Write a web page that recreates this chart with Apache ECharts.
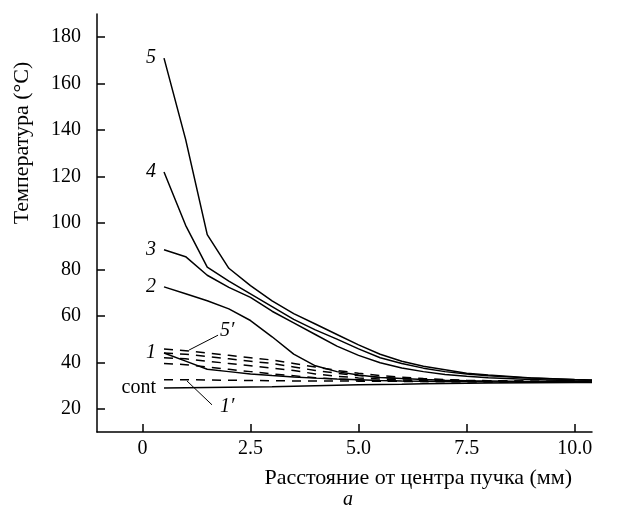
<!DOCTYPE html>
<html>
<head>
<meta charset="utf-8">
<script src="https://cdn.jsdelivr.net/npm/echarts@6/dist/echarts.min.js"></script>
<style>
  html, body { margin: 0; padding: 0; background: #fff; }
  #temp-chart { width: 627px; height: 514px; }
</style>
</head>
<body>
<div id="temp-chart"></div>
<script>
// расстояние от центра пучка, мм
var xs = [0.5, 1, 1.5, 2, 2.5, 3, 3.5, 4, 4.5, 5, 5.5, 6, 6.5, 7, 7.5, 8, 9, 10, 10.4];

// сплошные кривые
var curve5 = [171, 136, 95, 80.5, 73, 66.5, 61, 56.5, 52, 47.5, 43.5, 40.5, 38.3, 36.8, 35.3, 34.5, 33.3, 32.6, 32.4];
var curve4 = [122, 99, 81, 75, 69.5, 64, 58.5, 54, 50, 45.8, 42, 39.5, 37.5, 36, 35, 34.2, 33.2, 32.5, 32.3];
var curve3 = [88.5, 85.5, 77.5, 72.3, 68, 62, 57, 52, 47, 43, 39.8, 37.6, 36, 34.8, 34, 33.4, 32.6, 32.1, 32];
var curve2 = [72.5, 69.5, 66.5, 63, 58, 51, 43.5, 38.5, 36, 34.5, 33.5, 33, 32.6, 32.3, 32.1, 32, 31.8, 31.6, 31.5];
var curve1 = [44, 40.5, 37, 36, 35, 34.3, 33.7, 33.2, 32.8, 32.5, 32.2, 32, 31.9, 31.8, 31.7, 31.6, 31.5, 31.4, 31.4];
var curveCont = [29, 29.1, 29.2, 29.3, 29.4, 29.5, 29.7, 29.9, 30.1, 30.3, 30.5, 30.6, 30.8, 30.9, 31, 31.1, 31.2, 31.3, 31.3];

// штриховые кривые 1'..5'
var dash5 = [45.7, 45, 44, 43, 42, 41, 39.5, 38, 36.5, 35.3, 34.3, 33.6, 33, 32.6, 32.3, 32.1, 31.9, 31.8, 31.7];
var dash4 = [44, 43.5, 42.5, 41.5, 40.5, 39.5, 38, 36.5, 35.3, 34.3, 33.5, 33, 32.6, 32.3, 32.1, 32, 31.8, 31.7, 31.6];
var dash3 = [42, 41.5, 40.5, 39.5, 38.5, 37.5, 36.5, 35, 34, 33.3, 32.8, 32.4, 32.2, 32, 31.9, 31.8, 31.7, 31.6, 31.6];
var dash2 = [39.5, 39, 38, 37, 36, 35, 34.2, 33.4, 32.8, 32.4, 32.1, 31.9, 31.8, 31.7, 31.6, 31.6, 31.5, 31.5, 31.5];
var dash1 = [32.5, 32.5, 32.4, 32.3, 32.2, 32.1, 32, 32, 32, 31.9, 31.9, 31.8, 31.8, 31.7, 31.7, 31.6, 31.6, 31.5, 31.5];

var xTicks = [0, 2.5, 5, 7.5, 10];
var yTicks = [20, 40, 60, 80, 100, 120, 140, 160, 180];

var FONT = "'Liberation Serif', 'DejaVu Serif', serif";

function pairs(vals) {
  return xs.map(function (x, i) { return [x, vals[i]]; });
}

function solid(name, vals) {
  return {
    name: name, type: "line", data: pairs(vals),
    showSymbol: false, silent: true,
    lineStyle: { color: "#000", width: 1.5 }
  };
}
function dashed(name, vals) {
  return {
    name: name, type: "line", data: pairs(vals),
    showSymbol: false, silent: true,
    lineStyle: { color: "#000", width: 1.5, type: [9, 7] }
  };
}

var chart = echarts.init(document.getElementById("temp-chart"));

chart.setOption({
  animation: false,
  backgroundColor: "#fff",
  grid: { left: 97, right: 35, top: 14, bottom: 82 },
  xAxis: {
    type: "value", min: -1.05, max: 10.4,
    axisLine: { onZero: false, lineStyle: { color: "#000", width: 1.5 } },
    axisTick: { inside: true, length: 8, customValues: xTicks, lineStyle: { color: "#000", width: 1.5 } },
    axisLabel: {
      customValues: xTicks, margin: 7, color: "#000", fontFamily: FONT, fontSize: 20,
      formatter: function (v) { return v === 0 ? "0" : v.toFixed(1); }
    },
    splitLine: { show: false }
  },
  yAxis: {
    type: "value", min: 10, max: 190,
    axisLine: { show: true, onZero: false, lineStyle: { color: "#000", width: 1.5 } },
    axisTick: { show: true, inside: true, length: 8, customValues: yTicks, lineStyle: { color: "#000", width: 1.5 } },
    axisLabel: { customValues: yTicks, margin: 16, color: "#000", fontFamily: FONT, fontSize: 20 },
    splitLine: { show: false }
  },
  series: [
    solid("5", curve5), solid("4", curve4), solid("3", curve3),
    solid("2", curve2), solid("1", curve1), solid("cont", curveCont),
    dashed("5'", dash5), dashed("4'", dash4), dashed("3'", dash3),
    dashed("2'", dash2), dashed("1'", dash1)
  ]
});

// подписи кривых и выноски
function px(x, y) { return chart.convertToPixel({ gridIndex: 0 }, [x, y]); }

var texts = [];
function label(txt, x, y, italic) {
  var p = px(x, y);
  texts.push({
    type: "text", x: p[0] - 8, y: p[1],
    style: { text: txt, fill: "#000", font: (italic ? "italic " : "") + "20px " + FONT,
             align: "right", verticalAlign: "middle" }
  });
}
label("5", xs[0], curve5[0], true);
label("4", xs[0], curve4[0], true);
label("3", xs[0], curve3[0], true);
label("2", xs[0], curve2[0], true);
label("1", xs[0], curve1[0], true);
label("cont", xs[0], curveCont[0], false);

function leader(x1, y1, x2, y2) {
  var a = px(x1, y1), b = px(x2, y2);
  texts.push({ type: "line", shape: { x1: a[0], y1: a[1], x2: b[0], y2: b[1] },
               style: { stroke: "#000", lineWidth: 1 } });
}
leader(1.75, 51.7, 1.08, 45.3);
leader(1.61, 21.7, 1.03, 32);

var p5 = px(1.96, 53.4), p1 = px(1.96, 20.9);
texts.push({ type: "text", x: p5[0], y: p5[1], style: { text: "5\u2032", fill: "#000", font: "italic 20px " + FONT, align: "center", verticalAlign: "middle" } });
texts.push({ type: "text", x: p1[0], y: p1[1], style: { text: "1\u2032", fill: "#000", font: "italic 20px " + FONT, align: "center", verticalAlign: "middle" } });

// названия осей
texts.push({ type: "text", x: 572, y: 478, style: { text: "Расстояние от центра пучка (мм)", fill: "#000", font: "22px " + FONT, align: "right", verticalAlign: "middle" } });
texts.push({ type: "text", x: 22, y: 143, rotation: Math.PI / 2, style: { text: "Температура (°C)", fill: "#000", font: "22px " + FONT, align: "center", verticalAlign: "middle" } });
texts.push({ type: "text", x: 348, y: 500, style: { text: "a", fill: "#000", font: "italic 20px " + FONT, align: "center", verticalAlign: "middle" } });

chart.setOption({ graphic: texts });
</script>
</body>
</html>
